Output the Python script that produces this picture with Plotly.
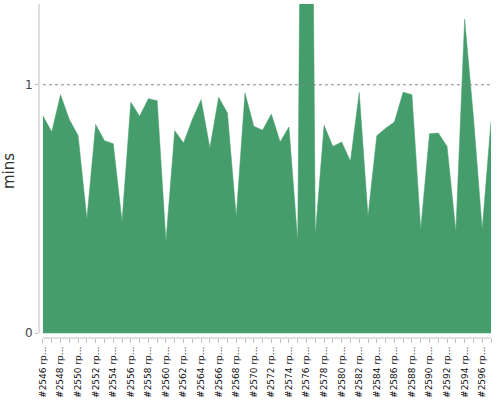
import plotly.graph_objects as go

# run numbers (x categories) and duration in minutes
run_numbers = list(range(2546, 2598))
run_labels = ["#{} rp...".format(n) for n in run_numbers]
durations = [
    0.875, 0.81, 0.96, 0.86, 0.796, 0.46, 0.84, 0.775, 0.763, 0.45,
    0.93, 0.873, 0.944, 0.936, 0.37, 0.815, 0.766, 0.86, 0.94, 0.746,
    0.95, 0.886, 0.47, 0.967, 0.833, 0.817, 0.882, 0.77, 0.83, 0.37,
    5.0, 0.395, 0.837, 0.752, 0.77, 0.692, 0.969, 0.471, 0.795, 0.825,
    0.85, 0.97, 0.96, 0.418, 0.803, 0.806, 0.752, 0.41, 1.264, 0.87,
    0.418, 0.853,
]
y_ticks = [0, 1]

green = "#459d6c"
axis_grey = "#bdbdbd"

# label only every other run
tick_text = [lab if i % 2 == 0 else "" for i, lab in enumerate(run_labels)]

area = go.Scatter(x=run_labels, y=durations, mode="lines",
                  fill="tozeroy", fillcolor=green,
                  line=dict(color=green, width=0.5),
                  hoverinfo="x+y")

y_top = 1.325
layout = go.Layout(
    width=500, height=400,
    margin=dict(l=39, r=9, t=4, b=62),
    paper_bgcolor="white", plot_bgcolor="white",
    showlegend=False,
    font=dict(family="DejaVu Sans"),
    xaxis=dict(type="category", range=[-0.45, len(run_labels) - 1],
               tickmode="array", tickvals=run_labels, ticktext=tick_text,
               tickangle=-90, tickfont=dict(size=9, color="#111"),
               ticks="outside", ticklen=4, tickcolor=axis_grey,
               showgrid=False, showline=False, zeroline=False,
               automargin=False),
    yaxis=dict(range=[-0.019, y_top], tickvals=y_ticks,
               tickfont=dict(size=12, color="#444"),
               ticks="outside", ticklen=3, tickcolor=axis_grey,
               showgrid=False, showline=False, zeroline=False,
               automargin=False,
               title=dict(text="mins", font=dict(size=15, color="#333"),
                          standoff=9)),
    shapes=[
        # reference line at 1 minute
        dict(type="line", xref="x", yref="y", x0=0, x1=len(run_labels) - 1,
             y0=1, y1=1, layer="above",
             line=dict(color="#888", width=1, dash="dot")),
        # detached axis lines
        dict(type="line", xref="paper", yref="y", x0=0, x1=0,
             y0=0, y1=y_top, line=dict(color=axis_grey, width=1)),
        dict(type="line", xref="x", yref="paper", x0=0, x1=len(run_labels) - 1,
             y0=0, y1=0, line=dict(color=axis_grey, width=1)),
    ],
)

fig = go.Figure(data=[area], layout=layout)
# drop the default page margin so the 500x400 figure fills the window
fig.write_html("out.html", config={"displayModeBar": False},
               post_script="document.body.style.margin='0';")
